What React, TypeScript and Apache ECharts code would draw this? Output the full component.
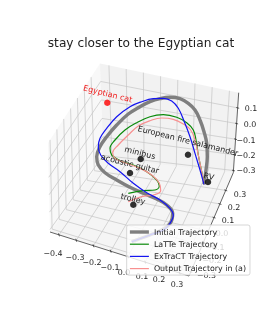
import React, { useEffect, useRef } from "react";
import * as echarts from "echarts";

const FONT = "DejaVu Sans";

// Data limits of the 3D box and its tick values
const xLim = [-0.452, 0.354];
const yLim = [-0.33, 0.43];
const zLim = [-0.314, 0.197];
const xTicks = [-0.4, -0.3, -0.2, -0.1, 0.0, 0.1, 0.2, 0.3];
const yTicks = [-0.3, -0.2, -0.1, 0.0, 0.1, 0.2, 0.3];
const zTicks = [-0.3, -0.2, -0.1, 0.0, 0.1];

// Trajectories, in the projected view plane
const initialTrajectory = [
  [204, 184.3], [206, 170], [207.3, 156.7], [206.7, 143.3], [204, 131.7], [200, 120], [195, 110], [188.3, 103.3],
  [180, 98.7], [170, 97.3], [160, 98.7], [150, 101.7], [140, 106.7], [128.3, 114], [116.7, 125], [106.7, 136.7],
  [100, 146.7], [96.7, 156.7], [98.3, 165], [105, 172.7], [116.7, 180], [130, 187.3], [143.3, 193.3], [156.7, 199],
  [166.7, 205], [172.7, 213.3], [170.7, 222.7], [163.3, 229.3], [150, 235], [131.7, 241.7],
];
const latteTrajectory = [
  [204, 184.3], [201.7, 171.7], [198.3, 155], [196, 140], [193.3, 130], [186.7, 122.7], [176.7, 117.3], [163.3, 114.7],
  [150, 116.7], [136.7, 122.7], [125, 130], [115, 140], [110, 148.3], [111.7, 155], [120, 160.7], [133.3, 165],
  [146.7, 171.7], [156.7, 180], [159.3, 186], [155, 190], [143.3, 190.7], [128.3, 193.3],
];
const extractTrajectory = [
  [204, 184.3], [200, 170], [195, 153.3], [190, 136.7], [184.3, 121.7], [178.3, 108.3], [171.7, 101], [163.3, 98.3],
  [153.3, 98.7], [141.7, 101.7], [130, 106.7], [116.7, 116.7], [106.7, 128.3], [100, 138.3], [98.3, 146.7],
  [100.7, 155], [108.3, 163.3], [120, 171.7], [133.3, 183.3], [146.7, 192.7], [160, 200], [170, 208.3], [173.3, 215],
  [170, 223.3], [163.3, 230], [150, 235], [131.7, 241.7],
];
const outputTrajectory = [
  [204, 184.3], [201.7, 171.7], [198.3, 155], [195, 140], [190.7, 130], [183.3, 124], [173.3, 119.3], [161.7, 118],
  [150, 120.7], [138.3, 126], [128.3, 135], [118.3, 145], [112.7, 152.7], [115, 158.3], [125, 162.7], [140, 168.3],
  [151.7, 175], [159.3, 183.3], [160.7, 190.7], [153.3, 195], [141.7, 196.7], [128.3, 201.7],
];
const seriesNames = ["Initial Trajectory", "LaTTe Trajectory", "ExTraCT Trajectory", "Output Trajectory in (a)"];

// Objects shown as dots with a name
const objectNames = ["Egyptian cat", "minibus", "acoustic guitar", "trolley", "European fire salamander", "RV"];
const objectPoints = [[107.3, 102.7], [140.7, 159], [130, 173], [133.3, 204.7], [188, 154.7], [208, 182]];
const objectLabelPoints = [[107.7, 94], [140, 153], [130, 164], [133, 199], [188, 141], [208.7, 176.7]];

// Screen layout of the box corners
const cLeftBottom = [50, 232];
const cBackBottom = [103.5, 158];
const cRightBottom = [233.3, 172.7];
const cFrontBottom = [189, 276];
const cLeftTop = [48, 143];
const cBackTop = [100, 63.5];
const cRightTop = [238.7, 92.7];
const cFrontTop = [186, 172];

const xLabelPos = [[53, 253], [75, 257], [92, 262], [110, 267], [124, 272], [142, 276], [159, 279], [177, 284]];
const yLabelPos = [[206.5, 275], [212, 260.5], [215, 247], [222, 233], [228, 220], [234, 207], [240, 194]];
const zLabelPos = [[246, 170.5], [246, 155], [246, 140], [250, 124], [251, 108]];

const lerp = (a: number[], b: number[], t: number) => [a[0] + (b[0] - a[0]) * t, a[1] + (b[1] - a[1]) * t];
const project = (x: number, y: number, z: number) => {
  const u = (x - xLim[0]) / (xLim[1] - xLim[0]);
  const v = (y - yLim[0]) / (yLim[1] - yLim[0]);
  const w = (z - zLim[0]) / (zLim[1] - zLim[0]);
  const bottom = lerp(lerp(cLeftBottom, cFrontBottom, u), lerp(cBackBottom, cRightBottom, u), v);
  const top = lerp(lerp(cLeftTop, cFrontTop, u), lerp(cBackTop, cRightTop, u), v);
  return lerp(bottom, top, w);
};

const fmt = (v: number) => (v < 0 ? "\u2212" : "") + Math.abs(v).toFixed(1);

const segmentSeries = (segs: number[][][], color: string, width: number, z: number) => ({
  type: "custom",
  silent: true,
  z,
  clip: false,
  coordinateSystem: "cartesian2d",
  data: segs.map((s) => [s[0][0], s[0][1], s[1][0], s[1][1]]),
  encode: { x: [0, 2], y: [1, 3] },
  renderItem: (_: any, api: any) => {
    const a = api.coord([api.value(0), api.value(1)]);
    const b = api.coord([api.value(2), api.value(3)]);
    return { type: "line", shape: { x1: a[0], y1: a[1], x2: b[0], y2: b[1] }, style: { stroke: color, lineWidth: width } };
  },
});

const paneSeries = (corners: number[][], color: string) => ({
  type: "custom",
  silent: true,
  z: 1,
  clip: false,
  data: [corners.flat()],
  renderItem: (_: any, api: any) => ({
    type: "polygon",
    shape: { points: corners.map((c) => api.coord(c)) },
    style: { fill: color, stroke: "none" },
  }),
});

const textSeries = (
  items: { text: string; pos: number[]; rot?: number; color?: string; size?: number }[],
  z: number,
) => ({
  type: "custom",
  silent: true,
  z,
  clip: false,
  data: items.map((it, i) => [it.pos[0], it.pos[1], i]),
  renderItem: (_: any, api: any) => {
    const it = items[api.value(2)];
    const p = api.coord([api.value(0), api.value(1)]);
    return {
      type: "text",
      x: p[0],
      y: p[1],
      rotation: ((it.rot || 0) * Math.PI) / 180,
      style: {
        text: it.text,
        fill: it.color || "#222",
        font: `${it.size || 7.9}px "${FONT}"`,
        align: "center",
        verticalAlign: "middle",
      },
    };
  },
});

export default function App() {
  const ref = useRef<HTMLDivElement>(null);
  useEffect(() => {
    document.body.style.margin = "0";
    const chart = echarts.init(ref.current!, undefined, { renderer: "svg" });

    const grid: number[][][] = [];
    const axes: number[][][] = [];
    const [x0, x1] = xLim;
    const [y0, y1] = yLim;
    const [z0, z1] = zLim;
    xTicks.forEach((t) => {
      grid.push([project(t, y0, z0), project(t, y1, z0)]);
      grid.push([project(t, y1, z0), project(t, y1, z1)]);
      const a = project(t, y0, z0);
      axes.push([[a[0] - 0.5, a[1] - 1.5], [a[0] + 0.5, a[1] + 1.5]]);
    });
    yTicks.forEach((t) => {
      grid.push([project(x0, t, z0), project(x1, t, z0)]);
      grid.push([project(x0, t, z0), project(x0, t, z1)]);
      const a = project(x1, t, z0);
      axes.push([[a[0] - 1.5, a[1] - 0.5], [a[0] + 1.5, a[1] + 0.5]]);
    });
    zTicks.forEach((t) => {
      grid.push([project(x0, y1, t), project(x1, y1, t)]);
      grid.push([project(x0, y1, t), project(x0, y0, t)]);
      const a = project(x1, y1, t);
      axes.push([[a[0] - 1.5, a[1] - 0.4], [a[0] + 1.5, a[1] + 0.4]]);
    });
    axes.push([cLeftBottom, cFrontBottom], [cFrontBottom, cRightBottom], [cRightBottom, cRightTop]);

    const lineSeries = (name: string, data: number[][], color: string, width: number, z: number) => ({
      name,
      type: "line",
      data,
      z,
      clip: false,
      smooth: 0.4,
      symbol: "none",
      silent: true,
      lineStyle: { color, width, cap: "butt" },
      itemStyle: { color },
    });

    chart.setOption({
      animation: false,
      title: {
        text: "stay closer to the Egyptian cat",
        left: 141,
        top: 37,
        textAlign: "center",
        padding: 0,
        textStyle: { fontFamily: FONT, fontSize: 12.2, fontWeight: "normal", color: "#222" },
      },
      grid: { left: 0, right: 0, top: 0, bottom: 0 },
      xAxis: { type: "value", min: 0, max: 275, show: false },
      yAxis: { type: "value", min: 0, max: 325, inverse: true, show: false },
      legend: {
        orient: "vertical",
        left: 126.7,
        top: 225,
        padding: [3, 4, 2.5, 1.5],
        itemWidth: 19,
        itemHeight: 8,
        itemGap: 4.2,
        data: seriesNames,
        backgroundColor: "rgba(255,255,255,0.8)",
        borderColor: "#ccc",
        borderWidth: 0.8,
        borderRadius: 2,
        selectedMode: false,
        itemStyle: { opacity: 0 },
        lineStyle: { width: "inherit" },
        textStyle: { fontFamily: FONT, fontSize: 7.9, lineHeight: 8, color: "#222" },
      },
      series: [
        paneSeries([cLeftTop, cBackTop, cBackBottom, cLeftBottom], "rgba(242,242,242,0.5)"),
        paneSeries([cBackTop, cRightTop, cRightBottom, cBackBottom], "rgba(230,230,230,0.5)"),
        paneSeries([cLeftBottom, cBackBottom, cRightBottom, cFrontBottom], "rgba(236,236,236,0.5)"),
        segmentSeries(grid, "#c4c4c4", 0.7, 1.5),
        segmentSeries(axes, "#222", 0.7, 1.6),
        lineSeries(seriesNames[0], initialTrajectory, "#7f7f7f", 3.4, 2),
        lineSeries(seriesNames[1], latteTrajectory, "#0a8a0a", 1.2, 2.1),
        lineSeries(seriesNames[2], extractTrajectory, "#1414f0", 1.2, 2.2),
        lineSeries(seriesNames[3], outputTrajectory, "#f89090", 1.2, 2.15),
        {
          type: "scatter",
          data: objectPoints.slice(1),
          symbolSize: 6.5,
          z: 2.5,
          silent: true,
          clip: false,
          itemStyle: { color: "#000" },
        },
        {
          type: "scatter",
          data: objectPoints.slice(0, 1),
          symbolSize: 6.5,
          z: 2.5,
          silent: true,
          clip: false,
          itemStyle: { color: "#f00" },
        },
        textSeries(
          objectNames.map((text, i) => ({
            text,
            pos: objectLabelPoints[i],
            rot: -14,
            color: i === 0 ? "#f02020" : "#222",
            size: 8,
          })),
          3,
        ),
        textSeries(
          [
            ...xTicks.map((t, i) => ({ text: fmt(t), pos: xLabelPos[i] })),
            ...yTicks.map((t, i) => ({ text: fmt(t), pos: yLabelPos[i] })),
            ...zTicks.map((t, i) => ({ text: fmt(t), pos: zLabelPos[i] })),
          ],
          1.8,
        ),
      ],
    });
    return () => chart.dispose();
  }, []);
  return <div ref={ref} style={{ width: 275, height: 325, filter: "blur(0.35px)" }} />;
}
